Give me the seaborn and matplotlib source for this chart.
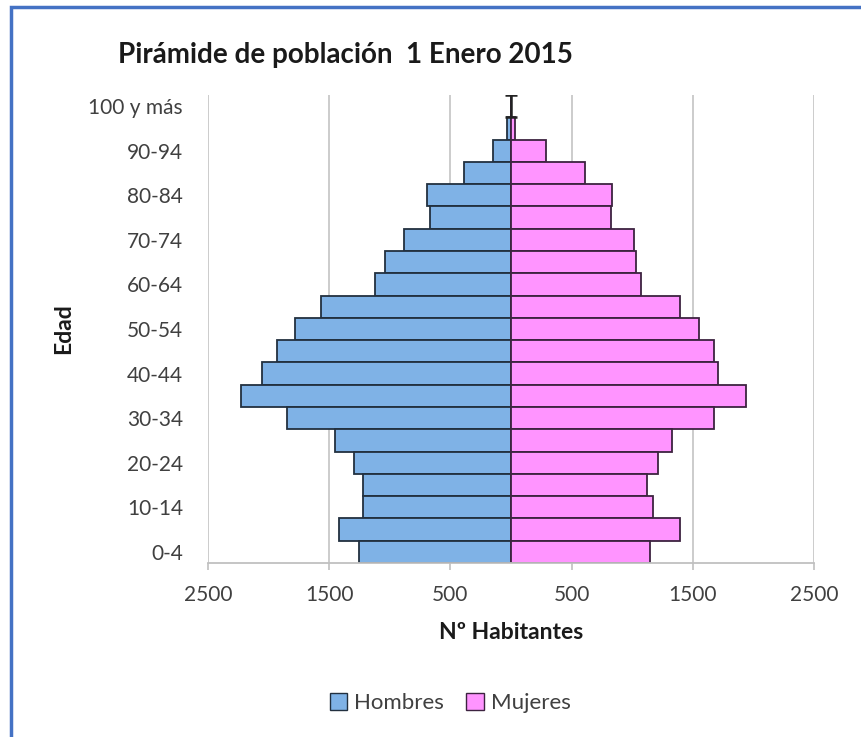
import matplotlib
matplotlib.use("Agg")
import matplotlib.pyplot as plt
from matplotlib.patches import Rectangle, Patch
import pandas as pd
import seaborn as sns

# Age groups, bottom to top as in the pyramid
edades = ["0-4", "5-9", "10-14", "15-19", "20-24", "25-29", "30-34", "35-39",
          "40-44", "45-49", "50-54", "55-59", "60-64", "65-69", "70-74",
          "75-79", "80-84", "85-89", "90-94", "95-99", "100 y más"]
hombres = [1254, 1419, 1221, 1221, 1295, 1450, 1845, 2228, 2052, 1928, 1785,
           1565, 1125, 1042, 883, 668, 695, 385, 150, 33, 4]
mujeres = [1144, 1395, 1172, 1125, 1213, 1331, 1675, 1936, 1710, 1675, 1550,
           1395, 1075, 1028, 1015, 828, 830, 610, 290, 36, 4]
xticks_vals = [-2500, -1500, -500, 500, 1500, 2500]

sns.set_style("white")
plt.rcParams["font.family"] = ["Lato", "DejaVu Sans"]

df = pd.DataFrame({"Edad": edades, "Hombres": hombres, "Mujeres": mujeres})
df["HombresNeg"] = -df["Hombres"]
order = edades[::-1]  # top row first

c_h, e_h = "#7fb2e6", "#22303f"
c_m, e_m = "#ff94ff", "#3d2340"
text_c = "#404040"

fig = plt.figure(figsize=(8.61, 7.37), dpi=100)
ax = fig.add_axes([208 / 861, 1 - 563 / 737, (814 - 208) / 861, (563 - 95) / 737])

sns.barplot(data=df, x="HombresNeg", y="Edad", order=order, orient="h",
            color=c_h, edgecolor=e_h, linewidth=1.3, width=1.0, saturation=1, ax=ax)
sns.barplot(data=df, x="Mujeres", y="Edad", order=order, orient="h",
            color=c_m, edgecolor=e_m, linewidth=1.3, width=1.0, saturation=1, ax=ax)

# the little "I" mark on the 100+ row
i_top = order.index("100 y más")
ax.errorbar(x=(mujeres[-1] - hombres[-1]) / 2, y=i_top, yerr=0.48, color="#222222",
            capsize=4, elinewidth=1.8, capthick=1.8, zorder=5)

ax.set_xlim(-2500, 2500)
ax.set_ylim(len(order) - 0.5, -0.5)
ax.set_xticks(xticks_vals)
ax.set_xticklabels([str(abs(v)) for v in xticks_vals], fontsize=15, color=text_c)
ax.set_axisbelow(True)
ax.grid(axis="x", color="#c8c8c8", linewidth=1.3)
ax.grid(axis="y", visible=False)

ticks_y = list(range(0, len(order), 2))
ax.set_yticks(ticks_y)
ax.set_yticklabels([order[i] for i in ticks_y], fontsize=15, color=text_c)
ax.tick_params(axis="y", length=0, pad=18)
ax.tick_params(axis="x", length=5, width=1.2, color="#c0c0c0", pad=11, bottom=True)

for s in ["top", "right", "left"]:
    ax.spines[s].set_visible(False)
ax.spines["bottom"].set_color("#c0c0c0")
ax.spines["bottom"].set_linewidth(1.3)

ax.set_xlabel("Nº Habitantes", fontsize=16.5, fontweight="bold", color="#1a1a1a", labelpad=12)
ax.set_ylabel("Edad", fontsize=16.5, fontweight="bold", color="#1a1a1a", labelpad=10)

fig.text(118 / 861, 1 - 55 / 737, "Pirámide de población  1 Enero 2015", fontsize=20,
         fontweight="bold", color="#1a1a1a", ha="left", va="center")

handles = [Patch(facecolor=c_h, edgecolor=e_h, label="Hombres"),
           Patch(facecolor=c_m, edgecolor=e_m, label="Mujeres")]
fig.legend(handles=handles, loc="center", bbox_to_anchor=(450 / 861, 1 - 703 / 737),
           ncol=2, frameon=False, fontsize=16, handlelength=0.8, handleheight=0.8,
           handletextpad=0.3, columnspacing=1.0, labelcolor=text_c)

# chart frame
fig.patches.append(Rectangle((11 / 861, -0.05), 1.2, 1 - 7 / 737 + 0.05,
                             transform=fig.transFigure, fill=False,
                             edgecolor="#4472c4", linewidth=2.5))

fig.savefig("out.png", dpi=100)
